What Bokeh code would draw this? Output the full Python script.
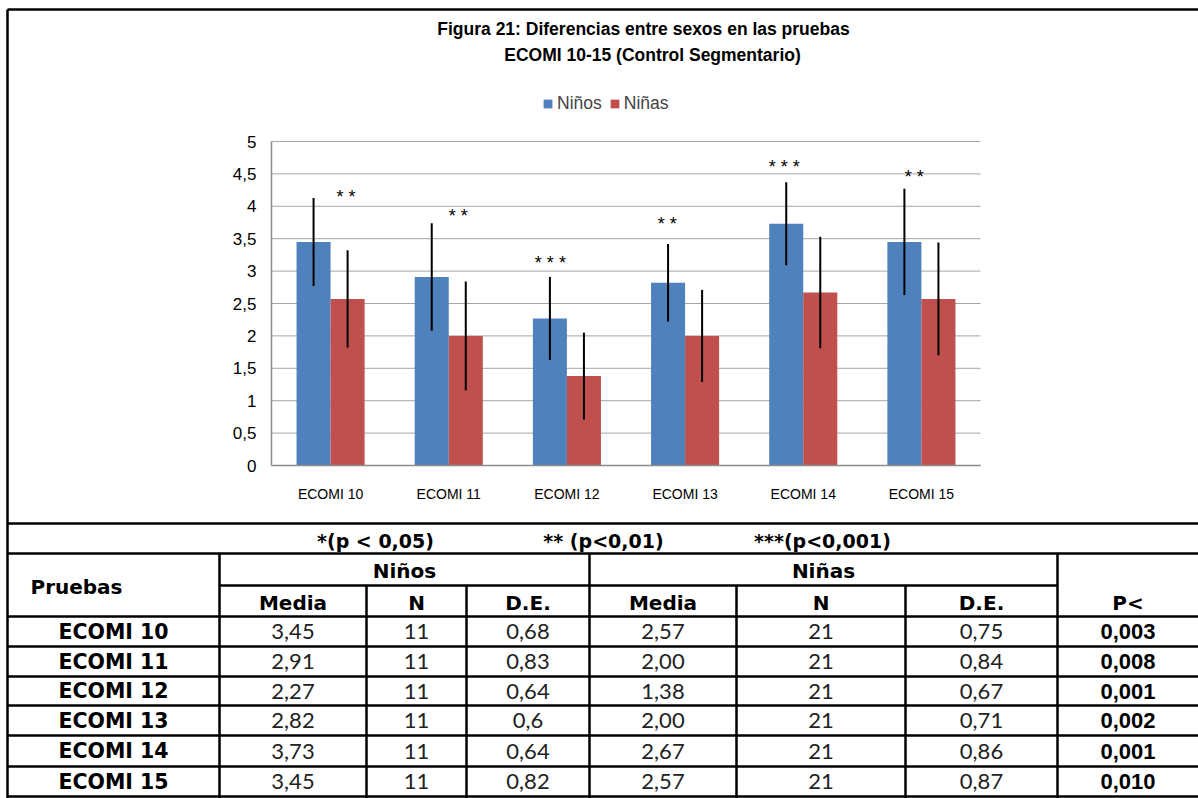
from bokeh.plotting import figure
from bokeh.models import (Range1d, ColumnDataSource, Legend, LegendItem, LinearAxis,
                          FixedTicker, CustomJSTickFormatter)
from bokeh.embed import file_html
from bokeh.resources import INLINE
from bokeh.core.properties import value

# ---------------- data ----------------
categories = ["ECOMI 10", "ECOMI 11", "ECOMI 12", "ECOMI 13", "ECOMI 14", "ECOMI 15"]
ninos_media = [3.45, 2.91, 2.27, 2.82, 3.73, 3.45]
ninos_de = [0.68, 0.83, 0.64, 0.6, 0.64, 0.82]
ninas_media = [2.57, 2.00, 1.38, 2.00, 2.67, 2.57]
ninas_de = [0.75, 0.84, 0.67, 0.71, 0.86, 0.87]
ninos_n = [11, 11, 11, 11, 11, 11]
ninas_n = [21, 21, 21, 21, 21, 21]
p_values = ["0,003", "0,008", "0,001", "0,002", "0,001", "0,010"]
ninos_media_txt = ["3,45", "2,91", "2,27", "2,82", "3,73", "3,45"]
ninos_de_txt = ["0,68", "0,83", "0,64", "0,6", "0,64", "0,82"]
ninas_media_txt = ["2,57", "2,00", "1,38", "2,00", "2,67", "2,57"]
ninas_de_txt = ["0,75", "0,84", "0,67", "0,71", "0,86", "0,87"]
stars = ["* *", "* *", "* * *", "* *", "* * *", "* *"]
star_y = [4.15, 3.85, 3.12, 3.72, 4.6, 4.45]
star_dx = [0.13, 0.08, -0.14, -0.15, -0.16, -0.06]
y_ticks = [0, 0.5, 1, 1.5, 2, 2.5, 3, 3.5, 4, 4.5, 5]
sig_legend = ["*(p < 0,05)", "** (p<0,01)", "***(p<0,001)"]
title_lines = ["Figura 21: Diferencias entre sexos en las pruebas",
               "ECOMI 10-15 (Control Segmentario)"]

BLUE = "#4F81BD"
RED = "#C0504D"
W, H = 1198, 798

# plot-area placement (pixels) of the bar chart inside the page
PL, PR, PT, PB = 271, 980, 141, 465
u = (PR - PL) / len(categories)       # px per category
v = (PB - PT) / 5.0                   # px per unit

p = figure(width=W, height=H, x_range=Range1d(0, W), y_range=Range1d(H, 0),
           output_backend="svg", toolbar_location=None, min_border=0,
           x_axis_location=None, y_axis_location=None)
p.grid.visible = False
p.outline_line_color = None
p.background_fill_color = "white"
p.border_fill_color = "white"

p.extra_x_ranges = {"cat": Range1d(-PL / u, len(categories) + (W - PR) / u)}
p.extra_y_ranges = {"val": Range1d(-(H - PB) / v, PB / v)}
XR, YR = "cat", "val"

# gridlines
p.segment(x0=[0] * len(y_ticks), x1=[len(categories)] * len(y_ticks), y0=y_ticks, y1=y_ticks,
          x_range_name=XR, y_range_name=YR, line_color="#a6a6a6", line_width=1)

# axes
xpos = [i + 0.5 for i in range(len(categories))]
xaxis = LinearAxis(x_range_name=XR, y_range_name=YR, fixed_location=0, bounds=(0, len(categories)),
                   ticker=FixedTicker(ticks=xpos),
                   major_label_overrides={x: c for x, c in zip(xpos, categories)})
yaxis = LinearAxis(x_range_name=XR, y_range_name=YR, fixed_location=0, bounds=(0, 5),
                   ticker=FixedTicker(ticks=y_ticks),
                   formatter=CustomJSTickFormatter(code="return tick.toString().replace('.', ',')"))
for ax in (xaxis, yaxis):
    ax.axis_line_color = "#8c8c8c"
    ax.axis_line_width = 1.5
    ax.major_tick_line_color = None
    ax.minor_tick_line_color = None
    ax.major_tick_out = 0
    ax.major_tick_in = 0
    ax.minor_tick_out = 0
    ax.minor_tick_in = 0
    ax.major_label_text_font = "Liberation Sans"
    ax.major_label_text_color = "black"
yaxis.major_label_text_font_size = "17px"
yaxis.major_label_standoff = 15
xaxis.major_label_text_font_size = "14px"
xaxis.major_label_standoff = 20
p.add_layout(xaxis, "below")
p.add_layout(yaxis, "left")

bw = 0.288
src = ColumnDataSource(dict(
    xb=[x - bw / 2 for x in xpos], xr=[x + bw / 2 for x in xpos],
    ninos=ninos_media, ninas=ninas_media,
    ninos_lo=[m - s for m, s in zip(ninos_media, ninos_de)],
    ninos_hi=[m + s for m, s in zip(ninos_media, ninos_de)],
    ninas_lo=[m - s for m, s in zip(ninas_media, ninas_de)],
    ninas_hi=[m + s for m, s in zip(ninas_media, ninas_de)],
))
r1 = p.vbar(x="xb", top="ninos", bottom=0, width=bw, source=src, fill_color=BLUE, line_color=None,
            x_range_name=XR, y_range_name=YR)
r2 = p.vbar(x="xr", top="ninas", bottom=0, width=bw, source=src, fill_color=RED, line_color=None,
            x_range_name=XR, y_range_name=YR)
p.segment(x0="xb", x1="xb", y0="ninos_lo", y1="ninos_hi", source=src, line_color="black",
          line_width=2, x_range_name=XR, y_range_name=YR)
p.segment(x0="xr", x1="xr", y0="ninas_lo", y1="ninas_hi", source=src, line_color="black",
          line_width=2, x_range_name=XR, y_range_name=YR)

p.text(x=[x + d for x, d in zip(xpos, star_dx)], y=star_y, text=stars,
       x_range_name=XR, y_range_name=YR, text_align="center", text_baseline="middle",
       text_font=value("Liberation Sans"), text_font_size="18px", text_color="black")

legend = Legend(items=[LegendItem(label="Niños", renderers=[r1]),
                       LegendItem(label="Niñas", renderers=[r2])],
                orientation="horizontal", location=(542, H - 114),
                glyph_width=11, glyph_height=11, label_text_font="Liberation Sans",
                label_text_font_size="17.5px", label_standoff=4, spacing=7, padding=0, margin=0,
                border_line_color=None, background_fill_alpha=0, label_height=20)
p.add_layout(legend)

# title
p.text(x=[643, 652], y=[28, 54], text=title_lines, text_align="center", text_baseline="middle",
       text_font=value("Liberation Sans"), text_font_style="bold", text_font_size="17.5px")

# ---------------- frame + table ----------------
cols = [7, 219, 366, 466, 589, 736, 905, 1057, W]
rows = [523, 553, 585, 616, 646, 676, 705, 735, 766, 796]

hx0 = [7, 7, 7, 219, 7] + [7] * 6
hx1 = [W, W, W, 1057, W] + [W] * 6
hy = [9, rows[0], rows[1], rows[2], rows[3]] + rows[4:]
p.segment(x0=hx0, x1=hx1, y0=hy, y1=hy, line_color="black", line_width=2.5)

vx = [7, 219, 589, 1057, 366, 466, 736, 905]
vy0 = [9, rows[1], rows[1], rows[1], rows[2], rows[2], rows[2], rows[2]]
vy1 = [H] * 8
p.segment(x0=vx, x1=vx, y0=vy0, y1=vy1, line_color="black", line_width=2.5)

LBL = value("DejaVu Sans")
p.text(x=[375, 603, 822], y=[540] * 3, text=sig_legend, text_align="center",
       text_baseline="middle", text_font=LBL, text_font_style="bold", text_font_size="19px")
p.text(x=[76, 404, 823], y=[586, 570, 570], text=["Pruebas", "Niños", "Niñas"],
       text_align="center", text_baseline="middle", text_font=LBL, text_font_style="bold",
       text_font_size="20px")
cc = [(cols[i] + cols[i + 1]) / 2 for i in range(len(cols) - 1)]
p.text(x=cc[1:], y=[602] * 7, text=["Media", "N", "D.E.", "Media", "N", "D.E.", "P<"],
       text_align="center", text_baseline="middle", text_font=LBL, text_font_style="bold",
       text_font_size="20px")

row_c = [(rows[i] + rows[i + 1]) / 2 for i in range(3, len(rows) - 1)]
p.text(x=[cc[0]] * 6, y=row_c, text=categories, text_align="center", text_baseline="middle",
       text_font=LBL, text_font_style="bold", text_font_size="20.5px")
for ci, vals in zip([1, 2, 3, 4, 5, 6],
                    [ninos_media_txt, [str(n) for n in ninos_n], ninos_de_txt,
                     ninas_media_txt, [str(n) for n in ninas_n], ninas_de_txt]):
    p.text(x=[cc[ci]] * 6, y=row_c, text=vals, text_align="center", text_baseline="middle",
           text_font=value("Lato"), text_font_size="22px", text_color="#222222")
p.text(x=[cc[7]] * 6, y=row_c, text=p_values, text_align="center", text_baseline="middle",
       text_font=value("Liberation Sans"), text_font_style="bold", text_font_size="22px")

open("out.html", "w").write(file_html(p, INLINE))
